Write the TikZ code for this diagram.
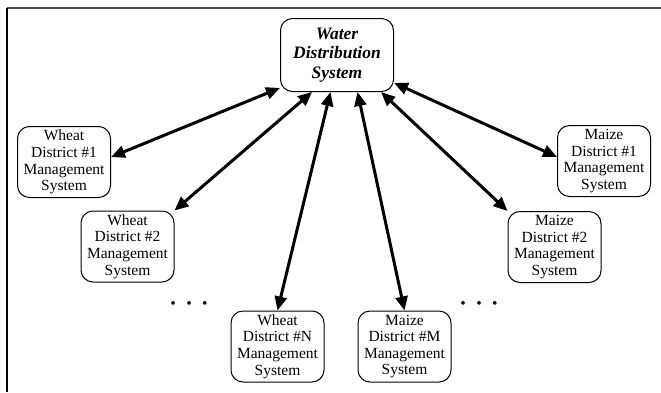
\documentclass[tikz,border=0pt]{standalone}
\usepackage{fontspec}
\setmainfont{Liberation Serif}
\usepackage{tikz}
\usetikzlibrary{shapes, positioning, arrows.meta, calc}

\begin{document}
\begin{tikzpicture}[
    x=1pt, y=-1pt,
    box/.style={rectangle, draw, rounded corners=12pt, line width=1pt, align=center, inner sep=0pt,
        minimum width=93pt, minimum height=71pt, font=\fontsize{15.5}{16.6}\selectfont},
    hub/.style={box, minimum width=113pt, minimum height=73pt, font=\fontsize{17.5}{19.5}\selectfont\bfseries\itshape},
    dots/.style={anchor=base, inner sep=0pt, font=\fontsize{15.5}{16}\selectfont},
    arrow/.style={{Triangle[length=14pt,width=12pt]}-{Triangle[length=14pt,width=12pt]}, line width=3pt}
    ]
\useasboundingbox (0,0) rectangle (661,392);
\draw[line width=2pt, black!70] (7,8) -- (661,8);
\draw[line width=2pt] (7,8) -- (7,392);

\node[hub] (water) at (337,55) {Water\\Distribution\\System};
\node[box] (wheat1) at (64,162) {Wheat\\District \#1\\Management\\System};
\node[box] (wheat2) at (127.5,246.5) {Wheat\\District \#2\\Management\\System};
\node[box] (wheatN) at (277.5,346.5) {Wheat\\District \#N\\Management\\System};
\node[box] (maizeM) at (404.5,346.5) {Maize\\District \#M\\Management\\System};
\node[box] (maize2) at (554.5,247) {Maize\\District \#2\\Management\\System};
\node[box] (maize1) at (604,161) {Maize\\District \#1\\Management\\System};

\node[dots] (dotsL) at (189,308.6) {\textbullet\hspace{10.5pt}\textbullet\hspace{10.5pt}\textbullet};
\node[dots] (dotsR) at (479,308.6) {\textbullet\hspace{10.5pt}\textbullet\hspace{10.5pt}\textbullet};

\draw[arrow] (water.-150) -- (wheat1.6);
\draw[arrow] (water.-124) -- (wheat2.north east);
\draw[arrow] (water.-100) -- (wheatN.north);
\draw[arrow] (water.-61) -- (maizeM.north);
\draw[arrow] (water.-40) -- (maize2.north west);
\draw[arrow] (water.-26) -- (maize1.175);
\end{tikzpicture}
\end{document}
